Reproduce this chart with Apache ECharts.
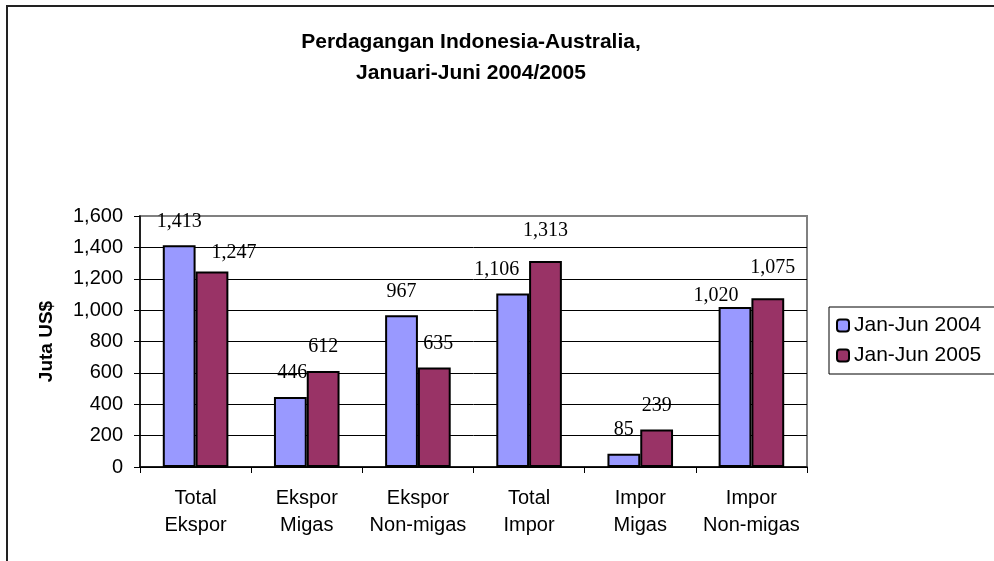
<!DOCTYPE html>
<html>
<head>
<meta charset="utf-8">
<script src="https://cdn.jsdelivr.net/npm/echarts@6/dist/echarts.min.js"></script>
<style>
  html, body { margin: 0; padding: 0; background: #fff; }
  #chart { width: 994px; height: 561px; }
</style>
</head>
<body>
<div id="chart"></div>
<script>
// Perdagangan Indonesia-Australia, Jan-Jun 2004/2005 (Juta US$)
const categories = ['Total\nEkspor', 'Ekspor\nMigas', 'Ekspor\nNon-migas', 'Total\nImpor', 'Impor\nMigas', 'Impor\nNon-migas'];
const seriesNames = ['Jan-Jun 2004', 'Jan-Jun 2005'];
const values2004 = [1413, 446, 967, 1106, 85, 1020];
const values2005 = [1247, 612, 635, 1313, 239, 1075];

// label nudges to mimic the original's hand-placed data labels
const offsets2004 = [[0, 0], [2, 0], [0, 0], [-16, 0], [0, 0], [-19, 13]];
const offsets2005 = [[22, 5], [0, 0], [4, 0], [0, -6], [0, 0], [5, -7]];

const ARIAL = 'Arial, "Liberation Sans", sans-serif';

(function(){
  const el = document.getElementById('chart');
  const chart = echarts.init(el);

  const mk = (vals, offs) => vals.map((v, i) => ({ value: v, label: { offset: offs[i] } }));
  const label = {
    show: true,
    position: 'top',
    distance: 14,
    fontFamily: '"Liberation Serif", "Times New Roman", serif',
    fontSize: 20,
    color: '#000',
    formatter: p => p.value.toLocaleString('en-US')
  };

  chart.setOption({
    backgroundColor: '#fff',
    animation: false,
    title: {
      text: 'Perdagangan Indonesia-Australia,\nJanuari-Juni 2004/2005',
      left: 466,
      top: 22,
      textAlign: 'center',
      textStyle: { fontFamily: ARIAL, fontSize: 21, fontWeight: 'bold', color: '#000', lineHeight: 31 }
    },
    graphic: [{
      type: 'rect',
      shape: { x: 7, y: 6, width: 1200, height: 800 },
      style: { fill: null, stroke: '#222', lineWidth: 2 },
      silent: true
    }],
    legend: {
      orient: 'vertical',
      left: 829,
      top: 307,
      padding: [8, 30, 8, 7],
      itemGap: 9,
      itemWidth: 12,
      itemHeight: 12,
      borderColor: '#000',
      borderWidth: 1,
      textStyle: { fontFamily: ARIAL, fontSize: 21, color: '#000' },
      data: seriesNames
    },
    grid: {
      left: 140, right: 187, top: 216, bottom: 94,
      show: true, borderColor: '#808080', borderWidth: 2, backgroundColor: 'transparent'
    },
    xAxis: {
      type: 'category',
      data: categories,
      axisLine: { lineStyle: { color: '#000', width: 1.5 } },
      axisTick: { show: true, inside: false, length: 6, lineStyle: { color: '#000' } },
      axisLabel: { interval: 0, margin: 18, fontFamily: ARIAL, fontSize: 20, lineHeight: 27, color: '#000' }
    },
    yAxis: {
      type: 'value',
      min: 0, max: 1600, interval: 200,
      name: 'Juta US$',
      nameLocation: 'middle',
      nameGap: 84,
      nameRotate: 90,
      nameTextStyle: { fontFamily: ARIAL, fontSize: 19, fontWeight: 'bold', color: '#000' },
      axisLine: { show: true, lineStyle: { color: '#000', width: 1.5 } },
      axisTick: { show: true, inside: false, length: 6, lineStyle: { color: '#000' } },
      axisLabel: { margin: 17, fontFamily: ARIAL, fontSize: 20, color: '#000', formatter: v => v.toLocaleString('en-US') },
      splitLine: { show: true, showMaxLine: false, lineStyle: { color: '#000', width: 1 } }
    },
    series: [
      { name: seriesNames[0], type: 'bar', data: mk(values2004, offsets2004), barGap: '0%', barCategoryGap: '41%',
        itemStyle: { color: '#9999FF', borderColor: '#000', borderWidth: 2 }, label: label },
      { name: seriesNames[1], type: 'bar', data: mk(values2005, offsets2005),
        itemStyle: { color: '#993366', borderColor: '#000', borderWidth: 2 }, label: label }
    ]
  });
})();
</script>
</body>
</html>
